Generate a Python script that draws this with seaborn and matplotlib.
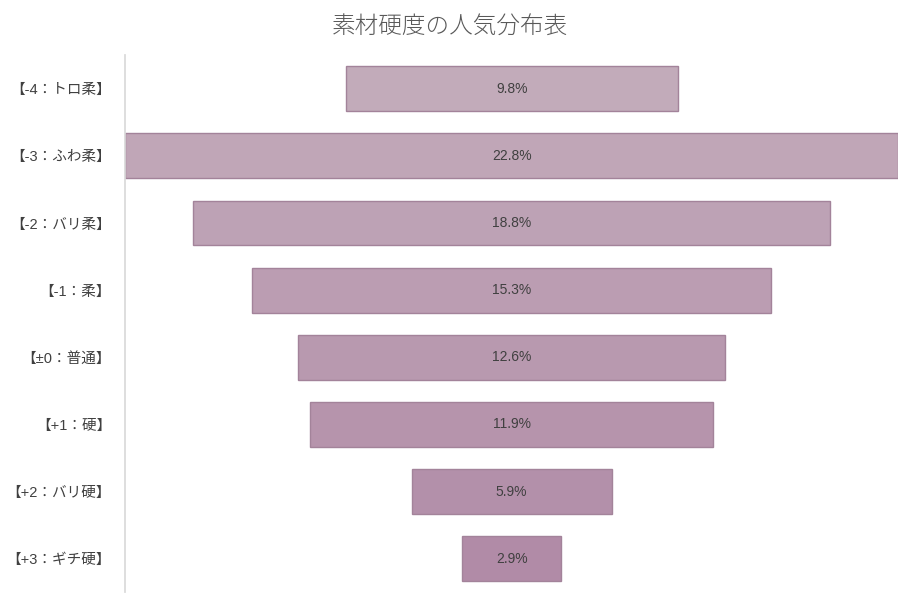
import seaborn as sns
import matplotlib.pyplot as plt
import pandas as pd

# data
labels = ['【-4：トロ柔】', '【-3：ふわ柔】', '【-2：バリ柔】', '【-1：柔】',
          '【±0：普通】', '【+1：硬】', '【+2：バリ硬】', '【+3：ギチ硬】']
shares = [9.8, 22.8, 18.8, 15.3, 12.6, 11.9, 5.9, 2.9]

df = pd.DataFrame({'label': labels, 'share': shares})

sns.set_theme(style='white')
plt.rcParams['font.family'] = ['Liberation Sans', 'Noto Sans CJK JP', 'DejaVu Sans']

fig = plt.figure(figsize=(9, 6), dpi=100)
ax = fig.add_axes([0.139, 0.013, 0.859, 0.895])

pal = sns.blend_palette(['#c2abba', '#b18ba7'], len(labels))
sns.barplot(data=df, x='share', y='label', hue='label', palette=pal,
            legend=False, width=0.67, edgecolor='#a3839a', linewidth=1,
            saturation=1, ax=ax)

# centre every bar on zero to make the funnel
for p, v in zip(ax.patches, shares):
    p.set_x(-p.get_width() / 2)
    ax.text(0, p.get_y() + p.get_height() / 2, f'{v}%', ha='center', va='center',
            fontsize=10, color='#404040')

ax.set_xlim(-11.4, 11.4)
ax.set_ylim(7.5, -0.5)
ax.set_xlabel('')
ax.set_ylabel('')
ax.set_xticks([])
ax.tick_params(axis='y', length=0, pad=10, labelsize=10.5, labelcolor='#404040')
for s in ['top', 'right', 'bottom']:
    ax.spines[s].set_visible(False)
ax.spines['left'].set_color('#d9d9d9')

fig.suptitle('素材硬度の人気分布表', y=0.975, fontsize=17, color='#595959',
             fontfamily=['Noto Sans CJK JP'], fontweight='light')

fig.savefig('out.png', dpi=100)
